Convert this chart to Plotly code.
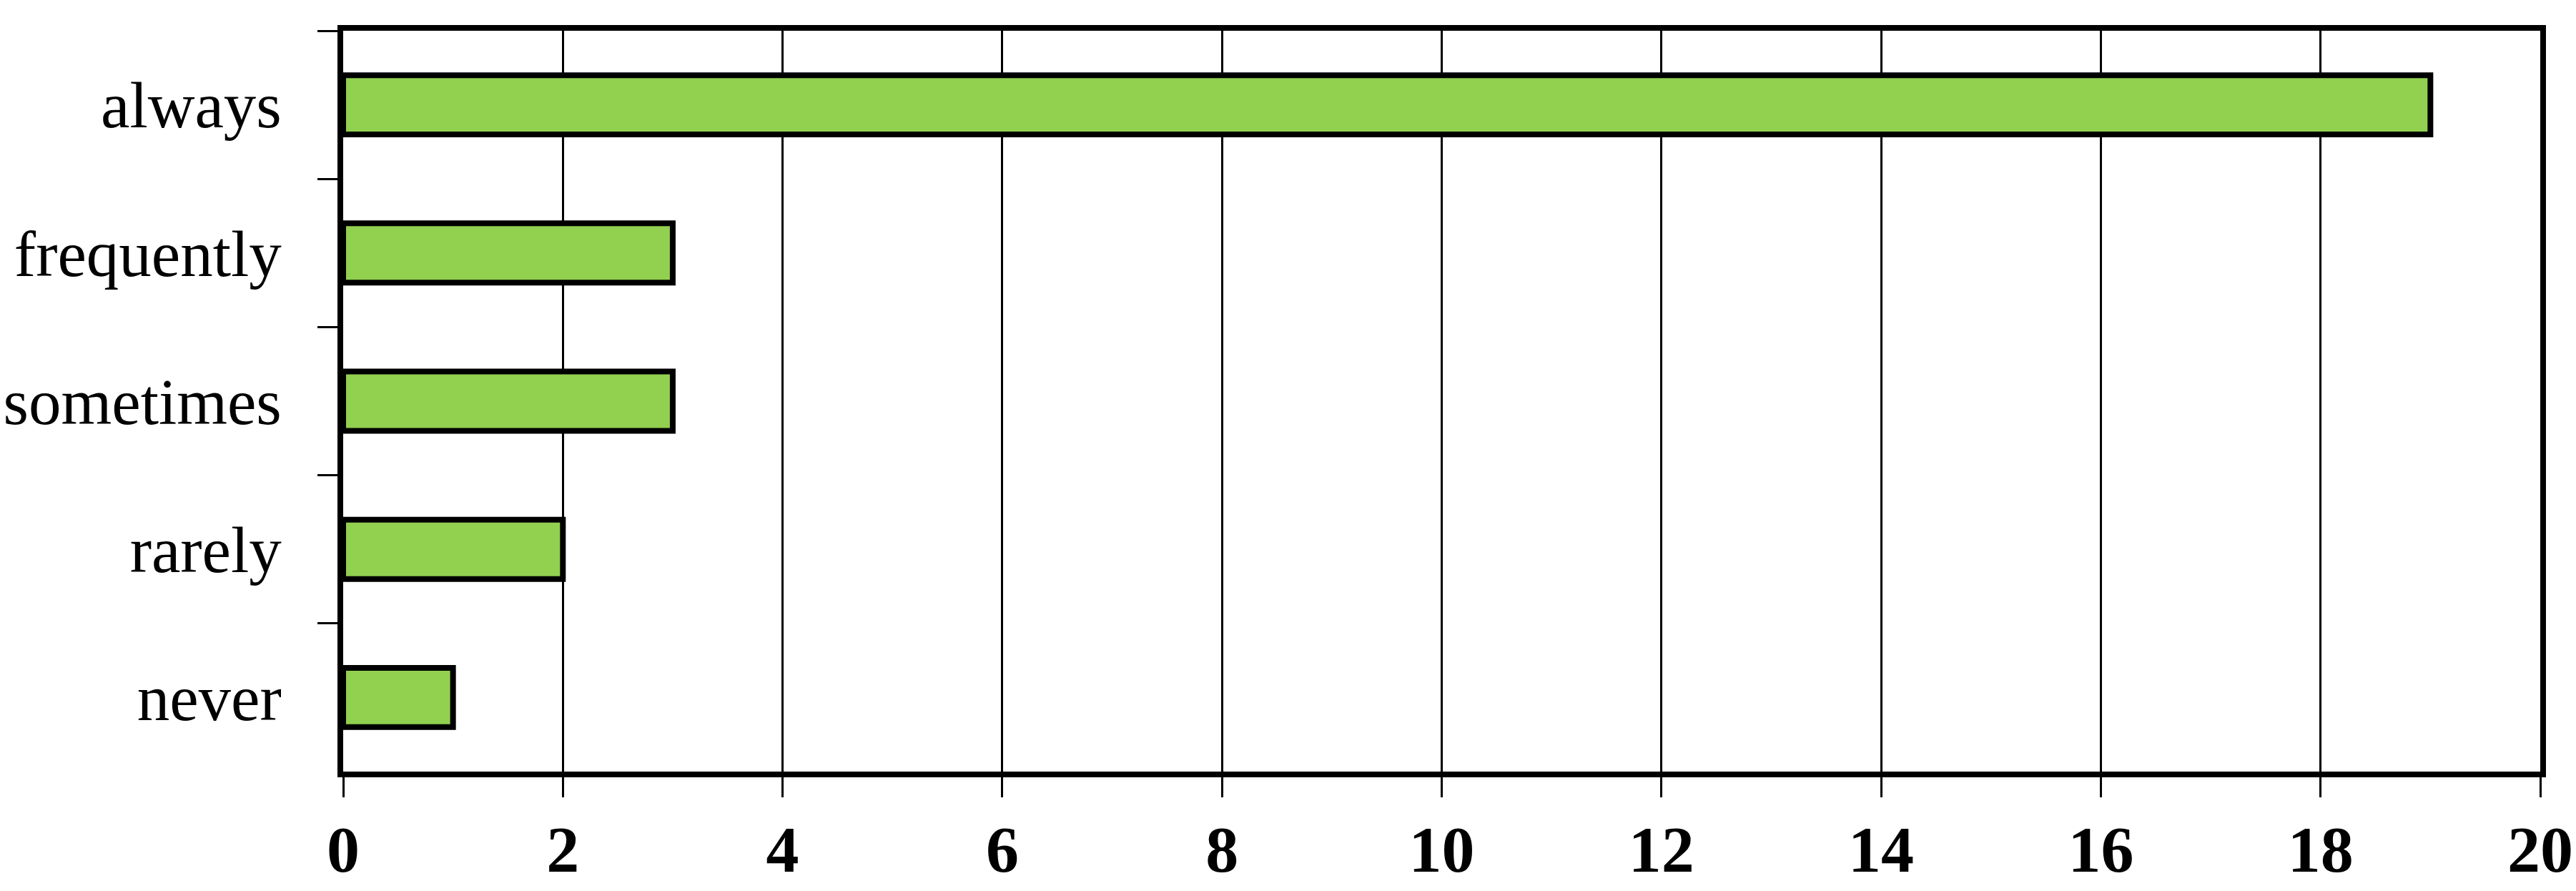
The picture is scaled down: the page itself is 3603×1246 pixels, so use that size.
import plotly.graph_objects as go

categories = ["always", "frequently", "sometimes", "rarely", "never"]
values = [19, 3, 3, 2, 1]
x_ticks = [0, 2, 4, 6, 8, 10, 12, 14, 16, 18, 20]

fig = go.Figure(go.Bar(
    x=values, y=categories, orientation="h",
    width=0.4,
    marker=dict(color="#92D050", line=dict(color="black", width=8)),
))

fig.update_layout(
    width=3603, height=1246,
    margin=dict(l=480, r=50, t=43, b=167),
    paper_bgcolor="white", plot_bgcolor="white",
    showlegend=False,
    bargap=0.6,
)
fig.update_xaxes(
    range=[0, 20], tickvals=x_ticks, ticktext=[str(v) for v in x_ticks],
    automargin=False,
    showgrid=True, gridcolor="black", gridwidth=3,
    showline=True, linecolor="black", linewidth=8, mirror=True,
    ticks="outside", ticklen=28, tickwidth=3, tickcolor="black",
    ticklabelstandoff=-6,
    tickfont=dict(family="Liberation Serif", size=92, color="black", weight="bold"),
    zeroline=False,
)
fig.update_yaxes(
    categoryorder="array", categoryarray=categories, autorange="reversed",
    tickson="boundaries",
    automargin=False,
    showgrid=False,
    showline=True, linecolor="black", linewidth=8, mirror=True,
    ticks="outside", ticklen=28, tickwidth=3, tickcolor="black",
    ticklabelstandoff=60,
    tickfont=dict(family="Liberation Serif", size=91, color="black"),
)

fig.write_html(
    "out.html",
    config={"displayModeBar": False},
    post_script="document.body.style.margin='0';document.body.style.overflow='hidden';",
)
